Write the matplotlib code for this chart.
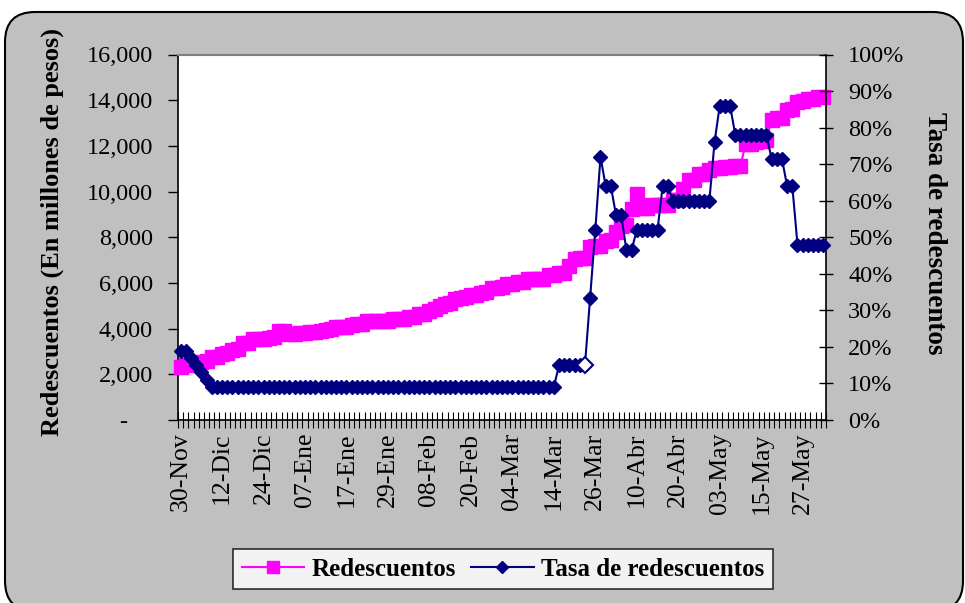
import matplotlib
matplotlib.use("Agg")
import matplotlib.pyplot as plt
from matplotlib.patches import FancyBboxPatch
from matplotlib.lines import Line2D
from matplotlib.ticker import FuncFormatter
import numpy as np

# etiquetas del eje x (una cada 8 dias habiles)
fechas = ["30-Nov", "12-Dic", "24-Dic", "07-Ene", "17-Ene", "29-Ene", "08-Feb", "20-Feb",
          "04-Mar", "14-Mar", "26-Mar", "10-Abr", "20-Abr", "03-May", "15-May", "27-May"]
paso_etiquetas = 8

# redescuentos en millones de pesos, un valor por dia habil
redescuentos = [
    2330, 2400, 2450, 2500, 2550, 2600, 2740, 2760, 2900, 2950,
    3060, 3100, 3350, 3380, 3530, 3540, 3550, 3600, 3620, 3880,
    3900, 3780, 3780, 3800, 3830, 3840, 3850, 3910, 3950, 3995,
    4050, 4080, 4090, 4150, 4190, 4200, 4320, 4330, 4335, 4340,
    4345, 4420, 4435, 4440, 4520, 4530, 4625, 4640, 4770, 4845,
    4990, 5060, 5135, 5310, 5320, 5400, 5470, 5480, 5570, 5610,
    5790, 5800, 5810, 5965, 5970, 6050, 6060, 6155, 6160, 6165,
    6170, 6330, 6340, 6420, 6430, 6740, 7060, 7070, 7080, 7585,
    7600, 7620, 7850, 7860, 8240, 8500, 8530, 9230, 9900, 9300,
    9300, 9400, 9400, 9400, 9420, 9630, 9640, 10110, 10500, 10520,
    10770, 10780, 10940, 11040, 11040, 11060, 11080, 11115, 11120, 12100,
    12100, 12150, 12200, 12250, 13150, 13200, 13230, 13550, 13600, 13900,
    13950, 14035, 14050, 14150, 14150,
]

# tasa de redescuentos en %
tasa = [
    19, 19, 17, 15, 13, 11, 9, 9, 9, 9,
    9, 9, 9, 9, 9, 9, 9, 9, 9, 9,
    9, 9, 9, 9, 9, 9, 9, 9, 9, 9,
    9, 9, 9, 9, 9, 9, 9, 9, 9, 9,
    9, 9, 9, 9, 9, 9, 9, 9, 9, 9,
    9, 9, 9, 9, 9, 9, 9, 9, 9, 9,
    9, 9, 9, 9, 9, 9, 9, 9, 9, 9,
    9, 9, 9, 15, 15, 15, 15, 15, 15, 33.5,
    52, 72, 64, 64, 56, 56, 46.5, 46.5, 52, 52,
    52, 52, 52, 64, 64, 60, 60, 60, 60, 60,
    60, 60, 60, 76, 86, 86, 86, 78, 78, 78,
    78, 78, 78, 78, 71.5, 71.5, 71.5, 64, 64, 48,
    48, 48, 48, 48, 48,
]

# dias con marcador vacio en la tasa
tasa_vacio = [78]

ROSA = "#FF00FF"
AZUL = "#000080"
GRIS = "#C0C0C0"
FUENTE = "Liberation Serif"

plt.rcParams["font.family"] = FUENTE

fig = plt.figure(figsize=(9.65, 6.03), dpi=100)
fig.patch.set_facecolor("white")

# marco gris redondeado del grafico
marco = FancyBboxPatch((0.05, -0.08), 9.58, 5.99,
                       boxstyle="round,pad=0,rounding_size=0.3",
                       transform=fig.dpi_scale_trans,
                       facecolor=GRIS, edgecolor="black", linewidth=1.5, zorder=-1)
fig.add_artist(marco)

ax = fig.add_axes([178 / 965, 1 - 420 / 603, (826 - 178) / 965, (420 - 54.5) / 603])
ax.set_facecolor("white")
ax2 = ax.twinx()

x = np.arange(len(redescuentos))

ax.plot(x, redescuentos, color=ROSA, linewidth=1.5, marker="s", markersize=9.5,
        markerfacecolor=ROSA, markeredgecolor=ROSA, clip_on=False, zorder=3)

ax2.plot(x, tasa, color=AZUL, linewidth=1.5, marker="D", markersize=6.8,
         markerfacecolor=AZUL, markeredgecolor=AZUL, clip_on=False, zorder=3)
ax2.plot(x[tasa_vacio], np.array(tasa)[tasa_vacio], linestyle="none", marker="D",
         markersize=8.5, markerfacecolor="white", markeredgecolor=AZUL,
         markeredgewidth=1.5, clip_on=False, zorder=4)

# ejes
ax.set_xlim(-0.5, len(redescuentos) - 0.5)
ax.set_ylim(0, 16000)
ax.set_yticks(np.arange(0, 16001, 2000))
ax.yaxis.set_major_formatter(FuncFormatter(lambda v, _: "-    " if v == 0 else f"{v:,.0f}"))
ax2.set_ylim(0, 100)
ax2.set_yticks(np.arange(0, 101, 10))
ax2.yaxis.set_major_formatter(FuncFormatter(lambda v, _: f"{v:.0f}%"))

ax.set_xticks(x[::paso_etiquetas])
ax.set_xticklabels(fechas, rotation=90, fontsize=18.5)
ax.set_xticks(np.arange(-0.5, len(redescuentos)), minor=True)
ax.tick_params(axis="x", which="major", length=0, pad=9)
ax.tick_params(axis="x", which="minor", direction="inout", length=11, width=0.8)
ax.tick_params(axis="y", direction="out", length=7, width=1, pad=11, labelsize=17.5)
ax2.tick_params(axis="y", direction="inout", length=10, width=1, pad=11, labelsize=17.5)

for s in ["left", "bottom"]:
    ax.spines[s].set_color("black")
    ax.spines[s].set_linewidth(1.2)
ax.spines["top"].set_color("#808080")
ax.spines["top"].set_linewidth(1.5)
ax.spines["right"].set_visible(False)
for s in ["left", "bottom", "top"]:
    ax2.spines[s].set_visible(False)
ax2.spines["right"].set_color("black")
ax2.spines["right"].set_linewidth(1.2)

fig.text(52 / 965, 1 - 232 / 603, "Redescuentos (En millones de pesos)", rotation=90,
         ha="center", va="center", fontsize=19, fontweight="bold")
fig.text(935 / 965, 1 - 233 / 603, "Tasa de redescuentos", rotation=270,
         ha="center", va="center", fontsize=19.5, fontweight="bold")

# leyenda
manijas = [
    Line2D([], [], color=ROSA, linewidth=1.5, marker="s", markersize=8.5,
           markerfacecolor=ROSA, markeredgecolor=ROSA),
    Line2D([], [], color=AZUL, linewidth=1.5, marker="D", markersize=6.5,
           markerfacecolor=AZUL, markeredgecolor=AZUL),
]
leg = fig.legend(manijas, ["Redescuentos", "Tasa de redescuentos"], loc="center",
                 bbox_to_anchor=(503 / 965, 1 - 569 / 603), ncol=2, frameon=True,
                 fancybox=False, shadow=False, handlelength=2.5, handletextpad=0.3,
                 columnspacing=0.6, borderpad=0.35,
                 prop={"family": FUENTE, "size": 18, "weight": "bold"})
leg.get_frame().set_edgecolor("black")
leg.get_frame().set_linewidth(1.2)
leg.get_frame().set_facecolor("white")

plt.savefig("out.png", dpi=100)
